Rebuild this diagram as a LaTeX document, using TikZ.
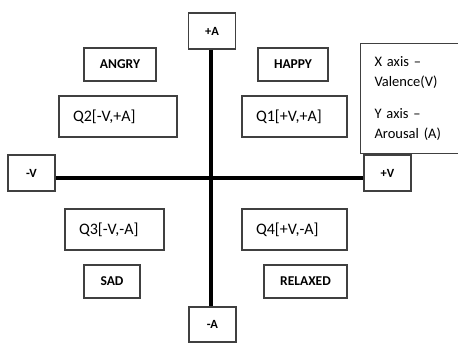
\documentclass[tikz,border=0pt]{standalone}
\usepackage{fontspec}
\setmainfont{Carlito}
\usetikzlibrary{positioning, calc}

\begin{document}
\begin{tikzpicture}[x=1pt, y=-1pt,
    box/.style={draw=black!75, line width=1.1pt, inner sep=0pt},
    tag/.style={box, font=\fontsize{12.5}{15}\selectfont\bfseries, minimum width=47, minimum height=36},
    mood/.style={box, font=\fontsize{13.5}{16}\selectfont\bfseries, minimum height=33},
    quad/.style={box, font=\fontsize{16}{19}\selectfont, minimum height=41, inner xsep=14pt, align=left},
    axis/.style={line width=4pt, black}]
    \useasboundingbox (0,0) rectangle (458,343);
    % axis ends
    \node[tag] (apos) at (212,31) {+A};
    \node[tag, minimum height=35] (aneg) at (212.5,324.5) {-A};
    \node[tag] (vneg) at (31.5,173) {-V};
    \node[tag] (vpos) at (387.5,173) {+V};
    % axes
    \draw[axis] ([xshift=-1.5pt]apos.south) -- ([xshift=-2pt]aneg.north);
    \draw[axis] ([yshift=-5pt]vneg.east) -- ([yshift=-5pt]vpos.west);
    % moods
    \node[mood, minimum width=72] (angry) at (120,64.5) {ANGRY};
    \node[mood, minimum width=70] (happy) at (293,64.5) {HAPPY};
    \node[mood, minimum width=56] (sad) at (112,281.5) {SAD};
    \node[mood, minimum width=83] (relaxed) at (305.5,281.5) {RELAXED};
    % quadrants
    \node[quad, text width=90] (q2) at (118,116.5) {Q2[-V,+A]};
    \node[quad, text width=77] (q1) at (294.5,116.5) {Q1[+V,+A]};
    \node[quad, text width=71] (q3) at (114.5,229.5) {Q3[-V,-A]};
    \node[quad, text width=77] (q4) at (294.5,229.5) {Q4[+V,-A]};
    % legend
    \node[box, anchor=north west, minimum width=102, minimum height=110,
        inner xsep=14pt, text width=74, align=left,
        font=\fontsize{14.5}{20}\selectfont] (legend) at (360,43)
        {X axis --\\Valence(V)\\[12pt]Y axis --\\Arousal (A)};
\end{tikzpicture}
\end{document}
